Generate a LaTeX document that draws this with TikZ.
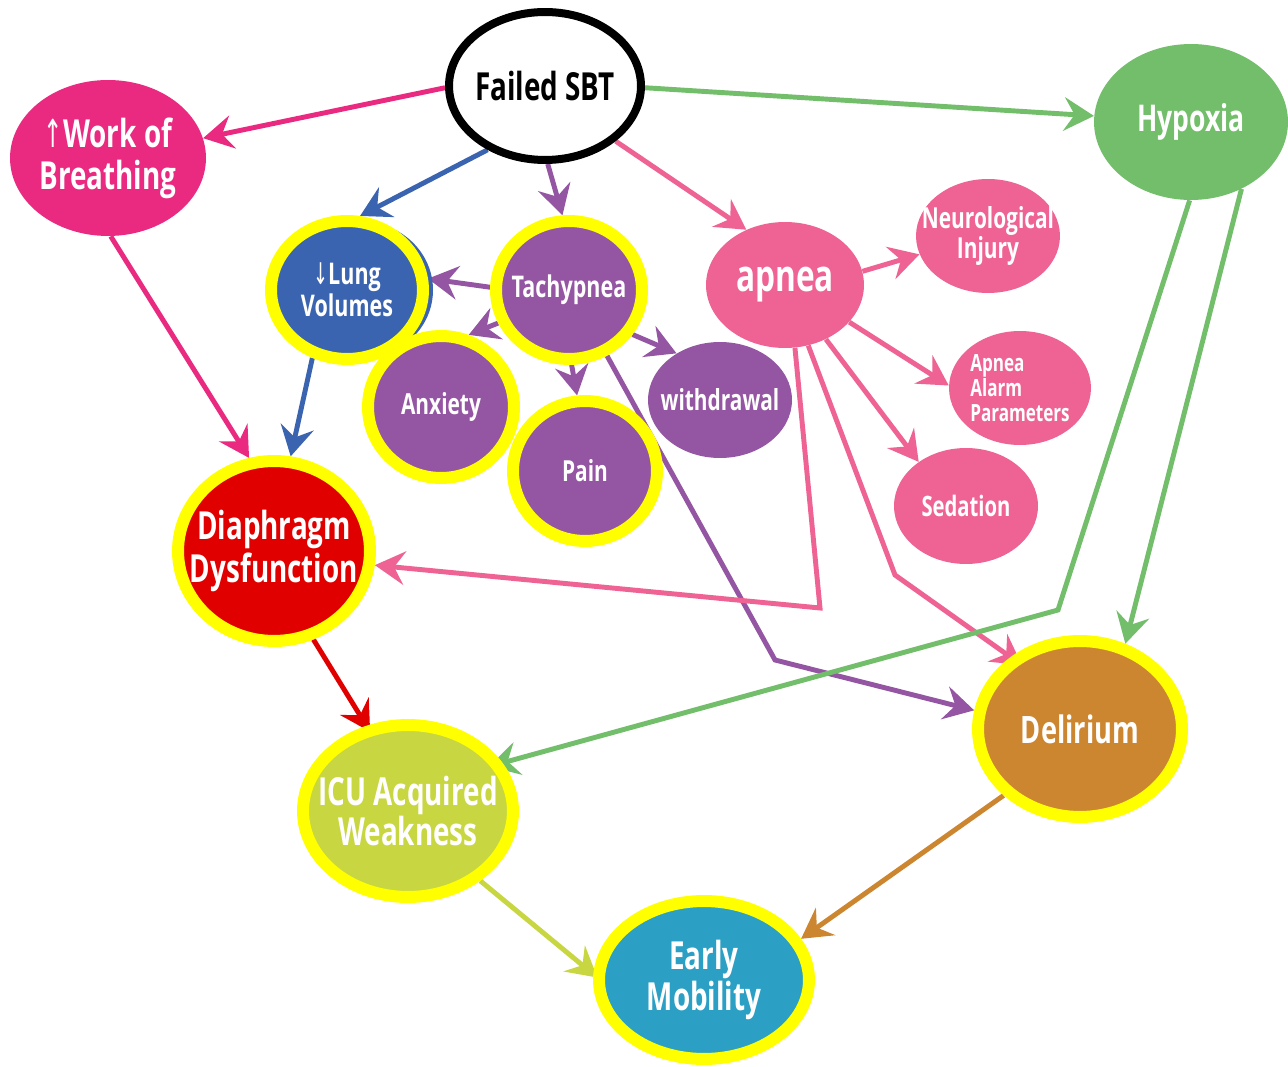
\documentclass[tikz,border=0pt]{standalone}
\usepackage{fontspec}
\setmainfont{Open Sans}[FakeStretch=0.72]
\newfontfamily\arrowfont{DejaVu Sans}[FakeStretch=0.6]
\usetikzlibrary{shapes.geometric,arrows.meta}
\pgfdeclarelayer{background}
\pgfsetlayers{background,main}
\definecolor{hotpink}{RGB}{234,42,128}
\definecolor{apink}{RGB}{238,99,147}
\definecolor{hgreen}{RGB}{114,190,107}
\definecolor{lblue}{RGB}{58,99,176}
\definecolor{tpurple}{RGB}{148,85,163}
\definecolor{dred}{RGB}{224,0,0}
\definecolor{ygreen}{RGB}{200,214,65}
\definecolor{dorange}{RGB}{205,134,48}
\definecolor{eteal}{RGB}{43,160,196}
\definecolor{hlyellow}{RGB}{255,255,0}
\newcommand\myfs[2]{\bfseries\fontsize{#1}{#2}\selectfont}
\tikzset{
  bub/.style={ellipse, inner sep=-30pt, text=white, align=center},
  hl/.style={bub, draw=hlyellow, line width=0.24cm},
  arr/.style={line width=2.8pt, line join=miter, -{Stealth[length=17pt,width=19pt,inset=6pt]}}
}
\begin{document}
\begin{tikzpicture}[x=0.02cm,y=-0.02cm]
\useasboundingbox (0,0) rectangle (1288,1067);
% plain nodes
\node[bub, draw=black, line width=0.16cm, fill=white, text=black, minimum width=3.84cm, minimum height=2.96cm, font=\myfs{22pt}{24pt}] (fsbt) at (545,86) {Failed SBT};
\node[bub, fill=hotpink, minimum width=3.92cm, minimum height=3.12cm, font=\myfs{22pt}{24pt}] (work) at (108,158) {{\arrowfont\mdseries ↑}Work of\\Breathing};
\node[bub, fill=hgreen, minimum width=3.88cm, minimum height=3.12cm, font=\myfs{21pt}{23pt}] (hyp) at (1191,122) {Hypoxia};
\node[bub, fill=apink, minimum width=3.16cm, minimum height=2.52cm, font=\myfs{25pt}{27pt}] (apnea) at (785,285) {apnea};
\node[bub, fill=tpurple, minimum width=2.88cm, minimum height=2.32cm, font=\myfs{16.5pt}{18pt}] (withd) at (720,400) {withdrawal};
\node[bub, fill=apink, minimum width=2.88cm, minimum height=2.28cm, font=\myfs{16.5pt}{17pt}] (neuro) at (988,236) {Neurological\\Injury};
\node[bub, fill=apink, minimum width=2.84cm, minimum height=2.28cm, align=left, font=\myfs{13.5pt}{14.2pt}] (alarm) at (1020,388) {Apnea\\Alarm\\Parameters};
\node[bub, fill=apink, minimum width=2.88cm, minimum height=2.32cm, font=\myfs{16pt}{18pt}] (sed) at (966,506) {Sedation};
% highlighted nodes
\fill[lblue] (362,290) ellipse [x radius=71, y radius=68];
\node[hl, fill=lblue, minimum width=3.04cm, minimum height=2.76cm, font=\myfs{17pt}{18pt}] (lung) at (347,290) {{\arrowfont\mdseries ↓}Lung\\Volumes};
\node[hl, fill=tpurple, minimum width=2.92cm, minimum height=2.76cm, font=\myfs{17pt}{19pt}] (tach) at (569,290) {Tachypnea};
\node[hl, fill=tpurple, minimum width=2.92cm, minimum height=2.84cm, font=\myfs{16.5pt}{18pt}] (anx) at (441,407) {Anxiety};
\node[hl, fill=tpurple, minimum width=2.88cm, minimum height=2.80cm, font=\myfs{16.5pt}{18pt}] (pain) at (585,471) {Pain};
\node[hl, fill=dred, minimum width=3.84cm, minimum height=3.60cm, font=\myfs{22pt}{24pt}] (diaph) at (274,551) {Diaphragm\\Dysfunction};
\node[hl, fill=ygreen, minimum width=4.20cm, minimum height=3.44cm, font=\myfs{22pt}{23pt}] (icu) at (408,811) {ICU Acquired\\Weakness};
\node[hl, fill=dorange, minimum width=4.08cm, minimum height=3.52cm, font=\myfs{21.5pt}{23pt}] (deli) at (1080,729) {Delirium};
\node[hl, fill=eteal, minimum width=4.20cm, minimum height=3.16cm, font=\myfs{22pt}{23pt}] (early) at (704,980) {Early\\Mobility};
% bend points
\coordinate (bA) at (775,660);
\coordinate (bB) at (820,608);
\coordinate (bC) at (895,575);
\coordinate (bD) at (1058,610);
\begin{pgfonlayer}{background}
\fill[white] (0,0) rectangle (1288,1067);
\draw[arr, hotpink] (fsbt.181) -- (work);
\draw[arr, hgreen] (fsbt.-1) -- (hyp);
\draw[arr, lblue] (fsbt.228) -- (lung.80);
\draw[arr, tpurple] (fsbt.-88) -- (tach.95);
\draw[arr, apink] (fsbt.-38) -- (apnea.125);
\draw[arr, hotpink] (work.-88) -- (diaph.105);
\draw[arr, lblue] (lung.243) -- (diaph.80);
\draw[arr, tpurple] (tach.178) -- (lung.8);
\draw[arr, tpurple] (tach.205) -- (anx.69);
\draw[arr, tpurple] (tach.-88) -- (pain.96);
\draw[arr, tpurple] (tach.-35) -- (withd.133);
\draw[arr, tpurple] (tach.-60) -- (bA) -- (deli.170);
\draw[arr, apink] (apnea.10) -- (neuro.195);
\draw[arr, apink] (apnea.-30) -- (alarm.178);
\draw[arr, apink] (apnea.-53) -- (sed.137);
\draw[arr, apink] (apnea.-81) -- (bB) -- (diaph.-8);
\draw[arr, apink, shorten >=-8pt] (apnea.-69) -- (bC) -- (deli.134);
\draw[arr, hgreen, shorten >=-8pt] (hyp.-91) -- (bD) -- (icu.27);
\draw[arr, hgreen] (hyp.-53) -- (deli.62);
\draw[arr, dred, shorten >=-4pt] (diaph.-66) -- (icu.116);
\draw[arr, ygreen, shorten >=-3pt] (icu.-44) -- (early.177);
\draw[arr, dorange] (deli.221) -- (early.23);
\end{pgfonlayer}
\end{tikzpicture}
\end{document}
